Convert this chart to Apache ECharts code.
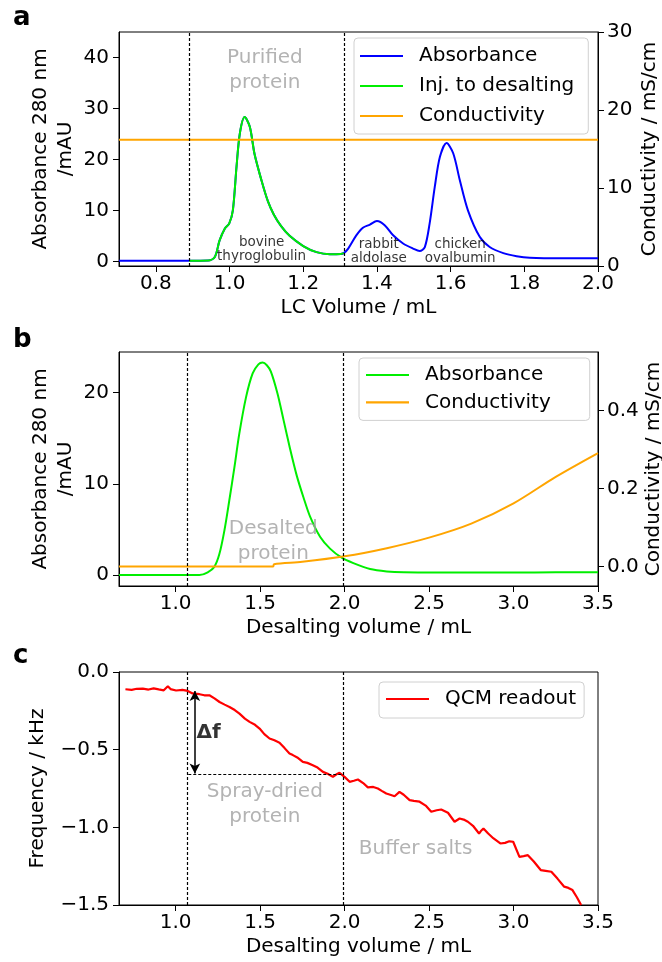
<!DOCTYPE html>
<html><head><meta charset="utf-8">
<script src="https://cdn.jsdelivr.net/npm/echarts@6/dist/echarts.min.js"></script>
<style>html,body{margin:0;padding:0;background:#fff}#c{width:662px;height:962px}</style>
</head><body><div id="c"></div>
<script>
// ---------- Panel a data ----------
const absA_x = [0.70,0.80,0.89,0.942,0.96,0.973,0.987,0.999,1.009,1.019,1.028,1.041,1.055,1.068,1.087,1.104,1.12,1.14,1.163,1.20,1.236,1.272,1.302,1.31,1.322,1.344,1.362,1.381,1.40,1.421,1.444,1.471,1.498,1.516,1.53,1.543,1.557,1.571,1.589,1.607,1.625,1.647,1.679,1.706,1.743,1.779,1.815,1.905,2.0];
const absA_y = [0.1,0.1,0.1,0.15,0.85,4.1,6.4,7.4,10.0,18.6,25.1,28.3,26.4,21.0,15.8,11.8,9.2,6.9,5.0,3.0,1.8,1.4,1.45,1.6,2.5,5.1,6.6,7.2,7.9,7.1,5.1,3.5,2.5,2.0,2.8,7.4,14.6,20.5,23.2,21.2,15.9,10.0,4.8,2.8,1.6,1.0,0.7,0.6,0.6];
const injRangeA = [0.89, 1.31];
const condA_x = [0.70, 2.0];
const condA_y = [16.2, 16.2];
const vlinesA = [0.89, 1.31];
const xTicksA = [0.8,1.0,1.2,1.4,1.6,1.8,2.0];
const yTicksA = [0,10,20,30,40];
const yTicksA2 = [0,10,20,30];
const annA_text = ['Purified\nprotein','bovine\nthyroglobulin','rabbit\naldolase','chicken\novalbumin'];
const annA_x = [1.096,1.087,1.405,1.626];
const annA_y = [37.4,2.4,1.85,1.85];

// ---------- Panel b data ----------
const absB_x = [0.665,1.0,1.141,1.19,1.229,1.259,1.289,1.318,1.348,1.377,1.417,1.456,1.49,1.515,1.54,1.564,1.603,1.64,1.678,1.717,1.757,1.796,1.855,1.914,1.983,2.052,2.151,2.25,2.35,2.55,2.75,3.0,3.25,3.5];
const absB_y = [0,0,0,0.3,0.9,2.3,4.9,8.2,11.8,15.5,19.5,22.1,23.1,23.3,23.0,22.3,19.9,16.9,13.8,10.9,8.5,6.4,4.2,2.9,1.9,1.3,0.66,0.4,0.3,0.27,0.27,0.28,0.3,0.3];
const condB_x = [0.665,1.0,1.3,1.578,1.582,1.75,2.0,2.25,2.5,2.75,3.0,3.25,3.5];
const condB_y = [0.0,0.0,0.0,0.0,0.006,0.012,0.026,0.047,0.074,0.110,0.162,0.230,0.291];
const vlinesBC = [1.075, 1.99];
const xTicksBC = [1.0,1.5,2.0,2.5,3.0,3.5];
const yTicksB = [0,10,20];
const yTicksB2 = [0.0,0.2,0.4];
const annB_text = ['Desalted\nprotein'];
const annB_x = [1.578];
const annB_y = [3.7];

// ---------- Panel c data ----------
const qcm_x = [0.703,0.74,0.77,0.806,0.84,0.87,0.9,0.93,0.954,0.97,1.003,1.04,1.072,1.1,1.142,1.17,1.2,1.23,1.26,1.29,1.319,1.35,1.378,1.41,1.438,1.47,1.497,1.525,1.556,1.585,1.615,1.645,1.674,1.694,1.72,1.753,1.78,1.812,1.84,1.872,1.9,1.931,1.95,1.97,2.0,2.03,2.055,2.079,2.11,2.138,2.17,2.197,2.22,2.247,2.27,2.296,2.325,2.35,2.385,2.41,2.444,2.48,2.513,2.545,2.572,2.612,2.651,2.681,2.705,2.73,2.76,2.796,2.81,2.822,2.85,2.88,2.922,2.95,2.975,2.998,3.035,3.06,3.085,3.12,3.161,3.19,3.224,3.26,3.3,3.325,3.349,3.375,3.4];
const qcm_y = [-0.111,-0.115,-0.108,-0.107,-0.113,-0.105,-0.112,-0.118,-0.092,-0.11,-0.119,-0.115,-0.122,-0.138,-0.143,-0.15,-0.15,-0.17,-0.193,-0.21,-0.225,-0.245,-0.268,-0.30,-0.321,-0.34,-0.364,-0.40,-0.428,-0.44,-0.455,-0.49,-0.525,-0.535,-0.55,-0.579,-0.585,-0.60,-0.615,-0.643,-0.655,-0.675,-0.66,-0.649,-0.675,-0.707,-0.70,-0.692,-0.715,-0.743,-0.74,-0.75,-0.765,-0.782,-0.79,-0.80,-0.772,-0.79,-0.825,-0.83,-0.835,-0.86,-0.90,-0.89,-0.885,-0.906,-0.964,-0.943,-0.95,-0.964,-0.99,-1.04,-1.02,-1.007,-1.04,-1.07,-1.104,-1.10,-1.09,-1.093,-1.19,-1.185,-1.179,-1.22,-1.275,-1.28,-1.286,-1.33,-1.382,-1.39,-1.404,-1.45,-1.5];
const yTicksC = [0,-0.5,-1.0,-1.5];
const deltaF_x = 1.114;
const deltaF_top = -0.122;
const deltaF_bottom = -0.653;
const hline_y = -0.66;
const annC_text = ['Spray-dried\nprotein','Buffer salts','Δf'];
const annC_x = [1.528,2.42,1.124];
const annC_y = [-0.852,-1.135,-0.39];

// ---------- helpers ----------
const FONT = 'DejaVu Sans';
const zip = (xs, ys) => xs.map((x, i) => [x, ys[i]]);
const fmt1 = v => (v < 0 ? '\u2212' : '') + Math.abs(v).toFixed(1);
const txt = (size, extra) => Object.assign({fontFamily: FONT, fontSize: size, color: '#000'}, extra || {});

function xAx(gi, min, max, ticks, name) {
  return {type:'value', gridIndex:gi, min, max, name, nameLocation:'middle', nameGap:32, nameMoveOverlap:false,
    nameTextStyle: txt(20),
    axisLine:{show:true, onZero:false, lineStyle:{color:'#000', width:1}},
    axisTick:{show:true, inside:false, length:6, lineStyle:{color:'#000'}, customValues:ticks},
    axisLabel:Object.assign(txt(20), {margin:8, customValues:ticks, formatter:v=>fmt1(v)}),
    splitLine:{show:false}};
}
function yAx(gi, pos, min, max, ticks, name, gap, dec) {
  return {type:'value', gridIndex:gi, position:pos, min, max, name, nameLocation:'middle', nameGap:gap,
    nameMoveOverlap:false, nameRotate:90, nameTextStyle: txt(20, {lineHeight:25}),
    axisLine:{show:true, onZero:false, lineStyle:{color:'#000', width:1}},
    axisTick:{show:true, inside:false, length:6, lineStyle:{color:'#000'}, customValues:ticks},
    axisLabel:Object.assign(txt(20), {margin: pos==='left'?10:9, customValues:ticks, formatter:v=>dec?fmt1(v):String(Math.round(v))}),
    splitLine:{show:false}};
}
const dashStyle = {color:'#000', width:1.2, type:[3,2]};
function vMark(vals) {
  return {silent:true, symbol:'none', animation:false, label:{show:false}, lineStyle:dashStyle,
    emphasis:{disabled:true}, data: vals.map(v => ({xAxis:v}))};
}
function annSeries(xi, yi, texts, xs, ys, styles) {
  return {type:'scatter', xAxisIndex:xi, yAxisIndex:yi, symbolSize:0, silent:true, z:5,
    data: texts.map((t, i) => ({value:[xs[i], ys[i]], label:Object.assign({show:true, formatter:t}, styles[i])}))};
}
const grayBig = {position:'inside', fontFamily:FONT, fontSize:20, color:'#a0a0a0', lineHeight:25, align:'center', verticalAlign:'middle'};
const blackSmall = {position:'inside', fontFamily:FONT, fontSize:13.5, color:'#000', lineHeight:14, align:'center', verticalAlign:'middle'};
const boldLeft = {position:'right', distance:0, fontFamily:FONT, fontSize:20, fontWeight:'bold', color:'#000', verticalAlign:'middle'};

const legBase = {orient:'vertical', selectedMode:false, icon:'rect', itemWidth:43, itemHeight:2.2,
  backgroundColor:'rgba(255,255,255,0.85)', borderColor:'#d0d0d0', borderWidth:1, borderRadius:4,
  textStyle: txt(20, {lineHeight:20, padding:[0,0,0,11]}), formatter: n => n.trim()};

const gridBase = {left:119, right:64, show:true, borderColor:'#000', borderWidth:1, outerBoundsMode:'none', containLabel:false};
const option = {
  animation:false,
  backgroundColor:'#fff',
  grid:[
    Object.assign({top:32, height:234}, gridBase),
    Object.assign({top:352, height:234}, gridBase),
    Object.assign({top:672, height:233}, gridBase)
  ],
  xAxis:[
    xAx(0, 0.7, 2.0, xTicksA, 'LC Volume / mL'),
    xAx(1, 0.665, 3.5, xTicksBC, 'Desalting volume / mL'),
    xAx(2, 0.665, 3.5, xTicksBC, 'Desalting volume / mL')
  ],
  yAxis:[
    yAx(0, 'left', -0.92, 45, yTicksA, 'Absorbance 280 nm\n/mAU', 41, false),
    yAx(0, 'right', 0, 30, yTicksA2, 'Conductivity / mS/cm', 39, false),
    yAx(1, 'left', -1.2, 24.45, yTicksB, 'Absorbance 280 nm\n/mAU', 41, false),
    yAx(1, 'right', -0.05, 0.55, yTicksB2, 'Conductivity / mS/cm', 43, true),
    yAx(2, 'left', -1.5, 0, yTicksC, 'Frequency / kHz', 69, true)
  ],
  legend:[
    Object.assign({}, legBase, {left:354, top:38, itemGap:10, padding:[8,14,8,6],
      data:['Absorbance','Inj. to desalting','Conductivity']}),
    Object.assign({}, legBase, {left:359, top:358, itemGap:7.4, padding:[7,39,8,7],
      data:['Absorbance ','Conductivity ']}),
    Object.assign({}, legBase, {left:379, top:682, itemGap:8, padding:[7,8,9,7],
      data:['QCM readout']})
  ],
  graphic:[
    {type:'text', x:13, y:18, style:{text:'a', font:'bold 26px "DejaVu Sans"', fill:'#000', verticalAlign:'middle'}},
    {type:'text', x:13, y:340, style:{text:'b', font:'bold 26px "DejaVu Sans"', fill:'#000', verticalAlign:'middle'}},
    {type:'text', x:13, y:656, style:{text:'c', font:'bold 26px "DejaVu Sans"', fill:'#000', verticalAlign:'middle'}}
  ],
  series:[
    // panel a
    {type:'line', name:'Absorbance', xAxisIndex:0, yAxisIndex:0, data:zip(absA_x, absA_y), symbol:'none', smooth:0.3,
      lineStyle:{color:'#0000ff', width:2}, itemStyle:{color:'#0000ff'}, markLine:vMark(vlinesA)},
    {type:'line', name:'Inj. to desalting', xAxisIndex:0, yAxisIndex:0,
      data:zip(absA_x, absA_y).filter(p => p[0] >= injRangeA[0] && p[0] <= injRangeA[1]), symbol:'none', smooth:0.3,
      lineStyle:{color:'#00ee00', width:2}, itemStyle:{color:'#00ee00'}},
    {type:'line', name:'Conductivity', xAxisIndex:0, yAxisIndex:1, data:zip(condA_x, condA_y), symbol:'none',
      lineStyle:{color:'#ffa500', width:2}, itemStyle:{color:'#ffa500'}},
    annSeries(0, 0, annA_text, annA_x, annA_y, [grayBig, blackSmall, blackSmall, blackSmall]),
    // panel b
    {type:'line', name:'Absorbance ', xAxisIndex:1, yAxisIndex:2, data:zip(absB_x, absB_y), symbol:'none', smooth:0.3,
      lineStyle:{color:'#00ee00', width:2}, itemStyle:{color:'#00ee00'}, markLine:vMark(vlinesBC)},
    {type:'line', name:'Conductivity ', xAxisIndex:1, yAxisIndex:3, data:zip(condB_x, condB_y), symbol:'none', smooth:0.3,
      lineStyle:{color:'#ffa500', width:2}, itemStyle:{color:'#ffa500'}},
    annSeries(1, 2, annB_text, annB_x, annB_y, [grayBig]),
    // panel c
    {type:'line', name:'QCM readout', xAxisIndex:2, yAxisIndex:4, data:zip(qcm_x, qcm_y), symbol:'none',
      lineStyle:{color:'#ff0000', width:2.2}, itemStyle:{color:'#ff0000'}, markLine:vMark(vlinesBC)},
    Object.assign(annSeries(2, 4, annC_text, annC_x, annC_y, [grayBig, grayBig, boldLeft]), {
      markLine:{silent:true, animation:false, label:{show:false}, emphasis:{disabled:true},
        data:[
          [{coord:[vlinesBC[0], hline_y], symbol:'none', lineStyle:dashStyle}, {coord:[vlinesBC[1], hline_y], symbol:'none'}],
          [{coord:[deltaF_x, deltaF_top], symbol:'arrow', symbolSize:[8,10], lineStyle:{color:'#000', width:1.5, type:'solid'}},
           {coord:[deltaF_x, deltaF_bottom], symbol:'arrow', symbolSize:[8,10]}]
        ]}
    })
  ]
};
echarts.init(document.getElementById('c')).setOption(option);
</script></body></html>
